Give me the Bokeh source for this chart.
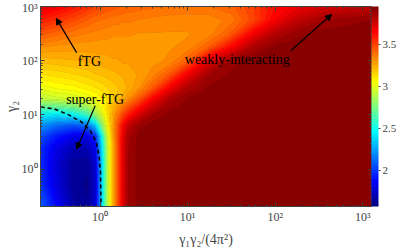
import numpy as np
from bokeh.plotting import figure, ColumnDataSource
from bokeh.models import (ColorBar, LinearColorMapper, FixedTicker, LinearAxis,
                          Arrow, NormalHead)
from bokeh.core.properties import value
from bokeh.embed import file_html
from bokeh.resources import INLINE

# ---------------- data ----------------
# grid nodes, as log10 of gamma1*gamma2/(4 pi^2) and log10 of gamma2
log_x_nodes = [-0.68, -0.5, -0.3, -0.15, -0.05, 0.02, 0.08, 0.14, 0.2, 0.26, 0.32,
               0.45, 0.6, 0.8, 1.0, 1.25, 1.5, 1.75, 2.0, 2.25, 2.5, 2.75, 3.1]
log_y_nodes = [-0.69, -0.3, 0.1, 0.4, 0.6, 0.8, 1.0, 1.15, 1.3, 1.5, 1.75,
               2.0, 2.25, 2.5, 2.75, 3.0]

z_rows = [
    [2.10, 1.88, 1.66, 1.62, 1.78, 2.35, 2.85, 3.20, 3.45, 3.72, 3.88, 3.94, 3.94, 3.94, 3.94, 3.94, 3.94, 3.94, 3.94, 3.94, 3.94, 3.94, 3.94],
    [2.00, 1.80, 1.63, 1.60, 1.76, 2.35, 2.85, 3.20, 3.45, 3.72, 3.88, 3.94, 3.94, 3.94, 3.94, 3.94, 3.94, 3.94, 3.94, 3.94, 3.94, 3.94, 3.94],
    [1.97, 1.78, 1.63, 1.62, 1.78, 2.35, 2.85, 3.20, 3.45, 3.72, 3.88, 3.94, 3.94, 3.94, 3.94, 3.94, 3.94, 3.94, 3.94, 3.94, 3.94, 3.94, 3.94],
    [1.98, 1.82, 1.70, 1.70, 1.85, 2.38, 2.87, 3.20, 3.45, 3.72, 3.88, 3.94, 3.94, 3.94, 3.94, 3.94, 3.94, 3.94, 3.94, 3.94, 3.94, 3.94, 3.94],
    [2.05, 1.92, 1.82, 1.82, 1.98, 2.45, 2.92, 3.22, 3.46, 3.70, 3.86, 3.94, 3.94, 3.94, 3.94, 3.94, 3.94, 3.94, 3.94, 3.94, 3.94, 3.94, 3.94],
    [2.22, 2.12, 2.06, 2.12, 2.35, 2.75, 3.02, 3.26, 3.46, 3.65, 3.80, 3.91, 3.94, 3.94, 3.94, 3.94, 3.94, 3.94, 3.94, 3.94, 3.94, 3.94, 3.94],
    [2.45, 2.42, 2.46, 2.60, 2.80, 2.96, 3.10, 3.25, 3.38, 3.50, 3.60, 3.76, 3.88, 3.94, 3.94, 3.94, 3.94, 3.94, 3.94, 3.94, 3.94, 3.94, 3.94],
    [2.70, 2.70, 2.75, 2.85, 2.95, 3.05, 3.14, 3.22, 3.30, 3.38, 3.46, 3.62, 3.78, 3.90, 3.94, 3.94, 3.94, 3.94, 3.94, 3.94, 3.94, 3.94, 3.94],
    [2.92, 2.95, 2.97, 3.00, 3.04, 3.08, 3.12, 3.16, 3.21, 3.26, 3.32, 3.46, 3.66, 3.85, 3.92, 3.94, 3.94, 3.94, 3.94, 3.94, 3.94, 3.94, 3.94],
    [3.02, 3.05, 3.07, 3.10, 3.12, 3.14, 3.16, 3.18, 3.20, 3.22, 3.25, 3.32, 3.45, 3.68, 3.85, 3.93, 3.94, 3.94, 3.94, 3.94, 3.94, 3.94, 3.94],
    [3.12, 3.14, 3.16, 3.18, 3.20, 3.21, 3.22, 3.23, 3.24, 3.25, 3.26, 3.29, 3.34, 3.46, 3.68, 3.88, 3.93, 3.94, 3.94, 3.94, 3.94, 3.94, 3.94],
    [3.22, 3.23, 3.24, 3.25, 3.26, 3.27, 3.27, 3.28, 3.28, 3.29, 3.29, 3.30, 3.31, 3.33, 3.44, 3.74, 3.90, 3.94, 3.94, 3.94, 3.94, 3.94, 3.94],
    [3.32, 3.31, 3.30, 3.30, 3.30, 3.30, 3.30, 3.30, 3.30, 3.30, 3.30, 3.30, 3.31, 3.32, 3.33, 3.45, 3.66, 3.86, 3.93, 3.94, 3.94, 3.94, 3.94],
    [3.46, 3.42, 3.38, 3.36, 3.35, 3.34, 3.34, 3.33, 3.33, 3.33, 3.33, 3.32, 3.32, 3.32, 3.32, 3.34, 3.45, 3.68, 3.83, 3.91, 3.94, 3.94, 3.94],
    [3.60, 3.55, 3.49, 3.44, 3.41, 3.40, 3.39, 3.38, 3.38, 3.37, 3.37, 3.36, 3.35, 3.34, 3.34, 3.34, 3.38, 3.50, 3.68, 3.80, 3.87, 3.90, 3.92],
    [3.72, 3.68, 3.62, 3.56, 3.51, 3.49, 3.47, 3.46, 3.45, 3.44, 3.43, 3.42, 3.41, 3.40, 3.39, 3.40, 3.43, 3.52, 3.64, 3.70, 3.74, 3.77, 3.80],
]

# dashed super-fTG boundary (real values)
boundary_x = [0.21, 0.30, 0.44, 0.615, 0.774, 0.904, 0.975, 1.013, 1.026]
boundary_y = [14.06, 12.9, 10.0, 7.4, 5.06, 3.16, 1.74, 0.84, 0.20]

label_text = ["fTG", "super-fTG", "weakly-interacting"]
label_x = [0.755, 0.88, 36.9]
label_y = [95.0, 19.0, 105.0]

arrow_x0 = [0.54, 0.88, 150.7]
arrow_y0 = [140.6, 14.7, 153.0]
arrow_x1 = [0.316, 0.54, 440.6]
arrow_y1 = [603.0, 2.34, 711.0]

x_ticks = [1, 10, 100, 1000]
y_ticks = [1, 10, 100, 1000]
tick_labels = ["10⁰", "10¹", "10²", "10³"]
cbar_ticks = [2, 2.5, 3, 3.5]
cbar_labels = ["2", "2.5", "3", "3.5"]
cbar_low, cbar_high = 1.57, 3.96

x_label = "γ₁γ₂/(4π²)"
y_label = "γ₂"

# ---------------- styling helpers ----------------
FONT = "Liberation Serif"
EDGE = "#404040"


def jet(t):
    t = min(max(t, 0.0), 1.0)
    r = min(max(1.5 - abs(4 * t - 3), 0.0), 1.0)
    g = min(max(1.5 - abs(4 * t - 2), 0.0), 1.0)
    b = min(max(1.5 - abs(4 * t - 1), 0.0), 1.0)
    return "#%02x%02x%02x" % (int(r * 255), int(g * 255), int(b * 255))


def norm(v):
    return (v - cbar_low) / (cbar_high - cbar_low)


palette = [jet(i / 255) for i in range(256)]
levels = np.linspace(cbar_low, cbar_high, 61)
band_colors = [jet(norm((levels[i] + levels[i + 1]) / 2)) for i in range(len(levels) - 1)]
level_colors = [jet(norm(lv)) for lv in levels]

lx = np.log10(np.array(x_ticks, dtype=float))
ly = np.log10(np.array(y_ticks, dtype=float))
x_range = (-0.68, 3.1)
y_range = (-0.69, 3.0)


def minor_for(rng):
    out = []
    for n in range(-2, 5):
        for k in range(2, 10):
            v = np.log10(k) + n
            if rng[0] < v < rng[1]:
                out.append(float(v))
    return out


x_ticker = FixedTicker(ticks=[float(t) for t in lx], minor_ticks=minor_for(x_range))
y_ticker = FixedTicker(ticks=[float(t) for t in ly], minor_ticks=minor_for(y_range))
x_over = {int(round(t)): s for t, s in zip(lx, tick_labels)}
y_over = {int(round(t)): s for t, s in zip(ly, tick_labels)}

p = figure(width=399, height=250, x_range=x_range, y_range=y_range,
           output_backend="svg", toolbar_location=None,
           min_border_top=6, min_border_left=34, min_border_bottom=44,
           min_border_right=0)
p.grid.visible = False
p.background_fill_color = "#800000"
p.outline_line_color = EDGE

Z = np.array(z_rows)
p.contour(x=np.array(log_x_nodes), y=np.array(log_y_nodes), z=Z, levels=levels,
          fill_color=band_colors, line_color=level_colors, line_width=0.8)

p.line(np.log10(boundary_x), np.log10(boundary_y), line_color="black",
       line_width=1.5, line_dash="4 3")

arrow_src = ColumnDataSource(dict(x0=np.log10(arrow_x0), y0=np.log10(arrow_y0),
                                  x1=np.log10(arrow_x1), y1=np.log10(arrow_y1)))
p.add_layout(Arrow(end=NormalHead(size=6, fill_color="black", line_color="black"),
                   x_start="x0", y_start="y0", x_end="x1", y_end="y1",
                   source=arrow_src, line_color="black", line_width=1.2))

p.text(x=np.log10(label_x), y=np.log10(label_y), text=label_text,
       text_font=value(FONT), text_font_size="14px", text_align="center",
       text_baseline="middle", text_color="black")

for ax, tk, ov in ((p.xaxis[0], x_ticker, x_over), (p.yaxis[0], y_ticker, y_over)):
    ax.ticker = tk
    ax.major_label_overrides = ov
    ax.major_label_text_font = FONT
    ax.major_label_text_font_size = "12px"
    ax.axis_label_text_font = FONT
    ax.axis_label_text_font_size = "14px"
    ax.axis_label_text_font_style = "normal"
    ax.major_tick_in = 4
    ax.major_tick_out = 0
    ax.minor_tick_in = 2
    ax.minor_tick_out = 0
    ax.axis_line_color = EDGE
    ax.major_tick_line_color = EDGE
    ax.minor_tick_line_color = EDGE
    ax.major_label_standoff = 3
    ax.axis_label_standoff = 0

p.xaxis.axis_label = x_label
p.xaxis.axis_label_standoff = 5
p.yaxis.axis_label = y_label

for side, tk in (("above", x_ticker), ("right", y_ticker)):
    ax = LinearAxis(ticker=tk, major_label_text_color=None,
                    major_label_text_font_size="1px",
                    major_tick_in=4, major_tick_out=0, minor_tick_in=2,
                    minor_tick_out=0, major_label_standoff=0,
                    axis_label_standoff=0,
                    axis_line_color=EDGE, major_tick_line_color=EDGE,
                    minor_tick_line_color=EDGE)
    p.add_layout(ax, side)

mapper = LinearColorMapper(palette=palette, low=cbar_low, high=cbar_high)
cbar = ColorBar(color_mapper=mapper, ticker=FixedTicker(ticks=cbar_ticks),
                major_label_overrides={t: s for t, s in zip(cbar_ticks, cbar_labels)},
                width=7, padding=0, margin=2, major_tick_in=0, major_tick_out=2,
                major_tick_line_color=EDGE, minor_tick_line_color=None,
                major_label_text_font=FONT, major_label_text_font_size="11px",
                label_standoff=2, bar_line_color=None, border_line_color=None,
                background_fill_alpha=0)
p.add_layout(cbar, "right")

open("out.html", "w").write(file_html(p, INLINE))
